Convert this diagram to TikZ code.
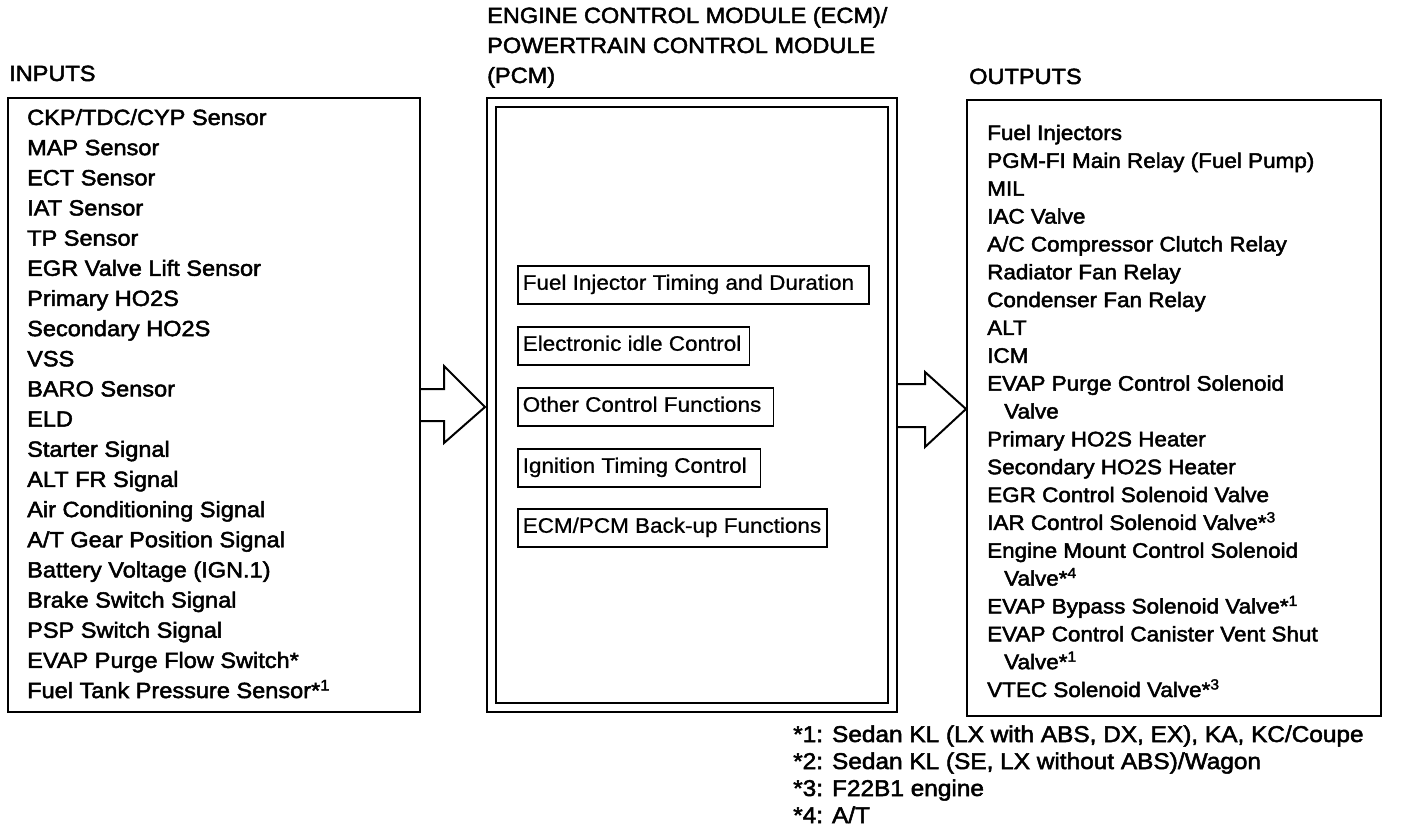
\documentclass[tikz,border=0pt]{standalone}
\usepackage{fontspec}
\setmainfont{Liberation Sans}
\newfontfamily\heavyfont{Liberation Sans}[FakeStretch=1.07,FakeBold=2.2]
\newfontfamily\litefont{Liberation Sans}[FakeStretch=1.07,FakeBold=0.8]
\newcommand\fnm[1]{*\textsuperscript{#1}}
\begin{document}
\begin{tikzpicture}[x=1pt,y=-1pt,
  lbl/.style={anchor=base west,inner sep=0pt,font=\heavyfont\fontsize{22}{26}\selectfont},
  inl/.style={lbl},
  outl/.style={lbl,font=\heavyfont\fontsize{21}{26}\selectfont},
  fnl/.style={lbl,font=\heavyfont\fontsize{22.8}{26}\selectfont},
  fbox/.style={draw,line width=1.5pt,anchor=north west,minimum height=38pt,inner xsep=5pt,inner ysep=0pt,
    text height=15pt,text depth=5pt,font=\litefont\fontsize{21}{26}\selectfont},
  frame/.style={line width=2pt},
  bigarrow/.style={line width=2pt,line join=miter}]
\useasboundingbox[fill=white] (0,0) rectangle (1408,836);

% titles
\node[lbl] (tin) at (9,81) {INPUTS};
\node[lbl] (tecm1) at (487,23) {ENGINE CONTROL MODULE (ECM)/};
\node[lbl] (tecm2) at (487,53) {POWERTRAIN CONTROL MODULE};
\node[lbl] (tecm3) at (487,83) {(PCM)};
\node[lbl] (tout) at (969,84) {OUTPUTS};

% frames
\draw[frame] (8,98) rectangle (420,712);
\draw[line width=2.3pt] (487,98) rectangle (897,712);
\draw[line width=1.8pt] (496,107) rectangle (888,703);
\draw[frame] (967,100) rectangle (1381,716);

% inputs
\foreach \t [count=\i from 0] in {CKP/TDC/CYP Sensor, MAP Sensor, ECT Sensor, IAT Sensor, TP Sensor,
  EGR Valve Lift Sensor, Primary HO2S, Secondary HO2S, VSS, BARO Sensor, ELD, Starter Signal,
  ALT FR Signal, Air Conditioning Signal, A/T Gear Position Signal, Battery Voltage (IGN.1),
  Brake Switch Signal, PSP Switch Signal, EVAP Purge Flow Switch*, Fuel Tank Pressure Sensor\fnm{1}}
  \node[inl] (in\i) at (27,125+30.16*\i) {\t};

% outputs
\foreach \dx/\t [count=\i from 0] in {0/{Fuel Injectors}, 0/{PGM-FI Main Relay (Fuel Pump)}, 0/{MIL},
  0/{IAC Valve}, 0/{A/C Compressor Clutch Relay}, 0/{Radiator Fan Relay}, 0/{Condenser Fan Relay},
  0/{ALT}, 0/{ICM}, 0/{EVAP Purge Control Solenoid}, 17/{Valve}, 0/{Primary HO2S Heater},
  0/{Secondary HO2S Heater}, 0/{EGR Control Solenoid Valve}, 0/{IAR Control Solenoid Valve\fnm{3}},
  0/{Engine Mount Control Solenoid}, 17/{Valve\fnm{4}}, 0/{EVAP Bypass Solenoid Valve\fnm{1}},
  0/{EVAP Control Canister Vent Shut}, 17/{Valve\fnm{1}}, 0/{VTEC Solenoid Valve\fnm{3}}}
  \node[outl] (out\i) at (987+\dx,140+27.85*\i) {\t};

% functions
\node[fbox] (f1) at (517,265) {Fuel Injector Timing and Duration\kern10pt};
\node[fbox] (f2) at (517,326) {Electronic idle Control\kern3pt};
\node[fbox] (f3) at (517,387) {Other Control Functions\kern7pt};
\node[fbox] (f4) at (517,448) {Ignition Timing Control\kern9pt};
\node[fbox] (f5) at (517,508) {ECM/PCM Back-up Functions\kern1pt};

% arrows
\draw[bigarrow] (420,389) -- (444,389) -- (444,366) -- (485,407) -- (444,443) -- (444,421) -- (420,421);
\draw[bigarrow] (897,384) -- (925,384) -- (925,372) -- (966,409) -- (925,447) -- (925,427) -- (897,427);

% footnotes
\node[fnl] (n1) at (793,742) {*1: Sedan KL (LX with ABS, DX, EX), KA, KC/Coupe};
\node[fnl] (n2) at (793,769) {*2: Sedan KL (SE, LX without ABS)/Wagon};
\node[fnl] (n3) at (793,796) {*3: F22B1 engine};
\node[fnl] (n4) at (793,823) {*4: A/T};
\end{tikzpicture}
\end{document}
